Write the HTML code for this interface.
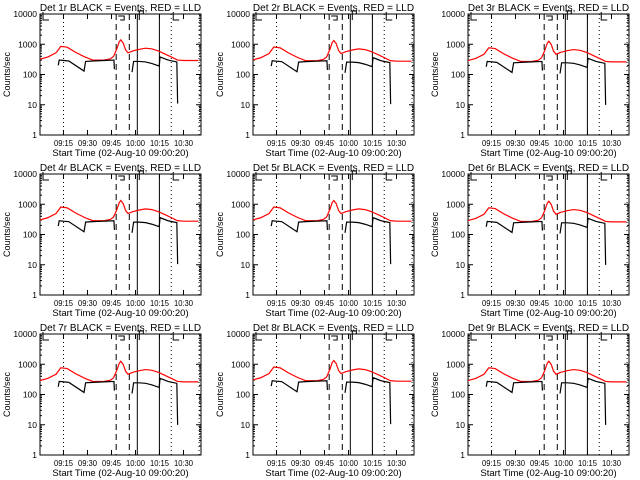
<!DOCTYPE html>
<html><head><meta charset="utf-8"><style>
body{margin:0;background:#fff;width:640px;height:480px;overflow:hidden}
svg{display:block;font-family:"Liberation Sans",sans-serif}
</style></head><body>
<svg id="c" width="640" height="480"></svg>
<script>
// time in minutes since 09:00:20
const redT=[0,5,10,13,17,22,28,33,40,44,46,48,49.5,50.5,52,53.5,55,58,62,66,70,74,78,82,86,90,95,99];
const redV=[320,380,520,850,800,550,380,300,300,330,400,700,1200,1400,1100,650,520,600,680,740,700,600,480,380,300,290,290,290];
const blkT1=[11.4,12,18,27.5,28.5,33,40,46.2,46.5];
const blkV1=[200,300,280,130,270,280,290,300,150];
const blkT2=[57.5,58.5,62,66,70,74.5,75,80,85.5,86];
const blkV2=[120,270,270,260,230,190,380,300,260,11];
const panelScale=[1,0.95,0.9,0.95,0.95,0.9,0.9,0.95,0.9];
const xTickLabels=["09:15","09:30","09:45","10:00","10:15","10:30"];
const xTickVals=[14.67,29.67,44.67,59.67,74.67,89.67];
const yTickVals=[1,10,100,1000,10000];
const dashedT=[47.6,55.8],solidT=[60.8,74.6],dottedT=[14.7,82,99.4];
const colX=[40,253,468],rowY=[14,174,334];
const NS="http://www.w3.org/2000/svg";
const svg=document.getElementById('c');
function mk(tag,at,parent){const e=document.createElementNS(NS,tag);for(const k in at)e.setAttribute(k,at[k]);(parent||svg).appendChild(e);return e;}
for(let p=0;p<9;p++){
  const x0=colX[p%3],y0=rowY[Math.floor(p/3)],W=161,H=121;
  const g=mk('g',{});
  
  
  const X=t=>x0+t/100.6*W;
  const Y=v=>y0+H-Math.log10(v)/4*H;
  const s=panelScale[p];
  const box=mk('rect',{x:x0,y:y0,width:W,height:H,fill:'none',stroke:'#000','stroke-width':1},g);
  
  
  const tt=mk('text',{x:x0+W/2,y:y0-3,'text-anchor':'middle','font-size':10},g);
  tt.textContent='Det '+(p+1)+'r BLACK = Events, RED = LLD';
  
  
  yTickVals.forEach(v=>{
    const y=Y(v);
    mk('line',{x1:x0,x2:x0+5,y1:y,y2:y,stroke:'#000'},g);
    mk('line',{x1:x0+W-5,x2:x0+W,y1:y,y2:y,stroke:'#000'},g);
    const l=mk('text',{x:x0-3,y:y+3,'text-anchor':'end','font-size':8.5},g);
    l.textContent=String(v);
    
    
    if(v<10000)for(let k=2;k<10;k++){const yy=Y(v*k);mk('line',{x1:x0,x2:x0+2,y1:yy,y2:yy,stroke:'#000'},g);mk('line',{x1:x0+W-2,x2:x0+W,y1:yy,y2:yy,stroke:'#000'},g);}
  });
  xTickVals.forEach((t,i)=>{
    const x=X(t);
    mk('line',{x1:x,x2:x,y1:y0+H,y2:y0+H-5,stroke:'#000'},g);
    mk('line',{x1:x,x2:x,y1:y0,y2:y0+5,stroke:'#000'},g);
    const l=mk('text',{x:x,y:y0+H+11,'text-anchor':'middle','font-size':8,'textLength':19,'lengthAdjust':'spacingAndGlyphs'},g);
    l.textContent=xTickLabels[i];
    
    
  });
  const xl=mk('text',{x:x0+W/2,y:y0+H+21,'text-anchor':'middle','font-size':9.5},g);
  xl.textContent='Start Time (02-Aug-10 09:00:20)';
  
  
  const yl=mk('text',{x:0,y:0,'text-anchor':'middle','font-size':9,transform:'translate('+(x0-30)+','+(y0+H/2)+') rotate(-90)'},g);
  yl.textContent='Counts/sec';
  
  
  dottedT.forEach(t=>mk('line',{x1:X(t),x2:X(t),y1:y0,y2:y0+H,stroke:'#000','stroke-dasharray':'1,3'},g));
  dashedT.forEach(t=>mk('line',{x1:X(t),x2:X(t),y1:y0,y2:y0+H,stroke:'#000','stroke-dasharray':'6,4'},g));
  solidT.forEach(t=>mk('line',{x1:X(t),x2:X(t),y1:y0,y2:y0+H,stroke:'#000'},g));
  mk('path',{d:'M'+(x0+3)+','+(y0-2)+' v8 h6',fill:'none',stroke:'#000'},g);
  mk('path',{d:'M'+(X(82)+2)+','+(y0-2)+' v8 h6',fill:'none',stroke:'#000'},g);
  mk('path',{d:'M'+(X(47.6)+2)+','+(y0+2)+' h6 v4 h-4',fill:'none',stroke:'#000'},g);
  mk('path',{d:'M'+(X(60.8))+','+(y0-3)+' h6 v3 M'+(X(60.8)+2)+','+(y0-3)+' v9',fill:'none',stroke:'#000'},g);
  const line=(T,V,col,name)=>{const pl=mk('polyline',{points:T.map((t,i)=>X(t)+','+Y(V[i]*s)).join(' '),fill:'none',stroke:col,'stroke-width':1.2},g);
    };
  line(redT,redV,'#f00','lld-series');
  line(blkT1,blkV1,'#000','events-series-a');
  line(blkT2,blkV2,'#000','events-series-b');
}
</script></body></html>
